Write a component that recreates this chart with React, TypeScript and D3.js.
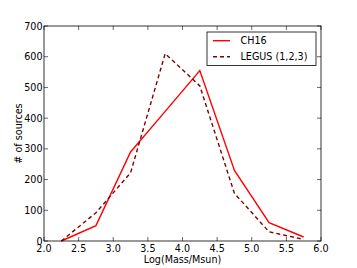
import * as d3 from "d3";

const massBins = [2.25, 2.75, 3.25, 3.75, 4.25, 4.75, 5.25, 5.75];
const ch16 = [0, 50, 290, 422, 555, 230, 60, 13];
const legus = [0, 92, 222, 610, 505, 155, 30, 5];
const xTicks = [2.0, 2.5, 3.0, 3.5, 4.0, 4.5, 5.0, 5.5, 6.0];
const yTicks = [0, 100, 200, 300, 400, 500, 600, 700];

const W = 357;
const H = 268;
const margin = { left: 44, right: 36, top: 26, bottom: 27 };

export default function App() {
  const x = d3.scaleLinear().domain([2, 6]).range([margin.left, W - margin.right]);
  const y = d3.scaleLinear().domain([0, 700]).range([H - margin.bottom, margin.top]);
  const line = d3
    .line<number>()
    .x((_d, i) => x(massBins[i]))
    .y((d) => y(d));

  const font = "DejaVu Sans, sans-serif";
  const fs = 9.6;
  const x0 = x(2), x1 = x(6), y0 = y(0), y1 = y(700);

  return (
    <svg width={W} height={H} style={{ position: "absolute", left: 0, top: 0 }}>
      <rect width={W} height={H} fill="#fff" />
      <path d={line(ch16) ?? ""} fill="none" stroke="#ff0000" strokeWidth={1.4} />
      <path d={line(legus) ?? ""} fill="none" stroke="#800000" strokeWidth={1.4} strokeDasharray="4,3" />
      <rect x={x0} y={y1} width={x1 - x0} height={y0 - y1} fill="none" stroke="#000" strokeWidth={0.8} />
      {xTicks.map((t) => (
        <g key={"x" + t}>
          <line x1={x(t)} x2={x(t)} y1={y0} y2={y0 - 4} stroke="#000" strokeWidth={0.6} />
          <line x1={x(t)} x2={x(t)} y1={y1} y2={y1 + 4} stroke="#000" strokeWidth={0.6} />
          <text x={x(t)} y={y0 + 10.5} fontSize={fs} fontFamily={font} textAnchor="middle">
            {t.toFixed(1)}
          </text>
        </g>
      ))}
      {yTicks.map((t) => (
        <g key={"y" + t}>
          <line x1={x0} x2={x0 + 4} y1={y(t)} y2={y(t)} stroke="#000" strokeWidth={0.6} />
          <line x1={x1} x2={x1 - 4} y1={y(t)} y2={y(t)} stroke="#000" strokeWidth={0.6} />
          <text x={x0 - 1.5} y={y(t) + 3.5} fontSize={fs} fontFamily={font} textAnchor="end">
            {t}
          </text>
        </g>
      ))}
      <text x={(x0 + x1) / 2} y={H - 5} fontSize={fs} fontFamily={font} textAnchor="middle">
        Log(Mass/Msun)
      </text>
      <text
        transform={`translate(22,${(y0 + y1) / 2}) rotate(-90)`}
        fontSize={fs}
        fontFamily={font}
        textAnchor="middle"
      >
        # of sources
      </text>
      <g>
        <rect x={207} y={32} width={109} height={33.5} fill="#fff" stroke="#000" strokeWidth={0.8} />
        <line x1={213} x2={230} y1={40.7} y2={40.7} stroke="#ff0000" strokeWidth={1.4} />
        <line x1={213} x2={230} y1={56.7} y2={56.7} stroke="#800000" strokeWidth={1.4} strokeDasharray="4,3" />
        <text x={240.5} y={44.2} fontSize={fs} fontFamily={font}>CH16</text>
        <text x={240.5} y={60.2} fontSize={fs} fontFamily={font}>LEGUS (1,2,3)</text>
      </g>
    </svg>
  );
}
